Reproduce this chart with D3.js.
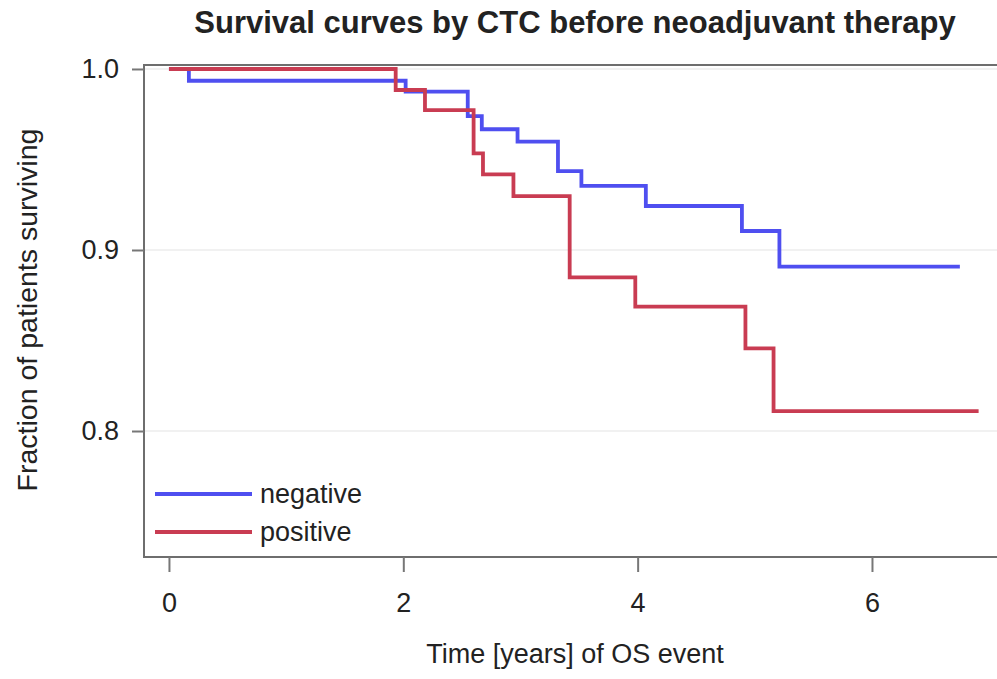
<!DOCTYPE html>
<html>
<head>
    <title>Survival curves by CTC</title>
    <script src="https://d3js.org/d3.v7.min.js"></script>
    <style>
        body { margin: 0; background: #fff; }
        svg { display: block; }
        text { font-family: "Liberation Sans", Arial, sans-serif; fill: #222; }
        .axis text { font-size: 27px; }
        .axis line { stroke: #777; stroke-width: 2; }
        .axis path { display: none; }
        .grid { stroke: #ececec; stroke-width: 1.5; }
        .frame { stroke: #6e6e6e; stroke-width: 2; fill: none; }
        .curve { fill: none; stroke-width: 3.8; }
    </style>
</head>
<body>
<svg width="997" height="679"></svg>
<script>
    // Kaplan-Meier steps (time in years, fraction surviving)
    const negTimes = [0, 0.17, 2.02, 2.55, 2.67, 2.975, 3.32, 3.52, 4.07, 4.89, 5.21, 6.75];
    const negSurv  = [1.0, 0.9935, 0.9875, 0.974, 0.9667, 0.9599, 0.9436, 0.9354, 0.9243, 0.9105, 0.8908, 0.8908];

    const posTimes = [0, 1.935, 2.185, 2.60, 2.68, 2.94, 3.42, 3.98, 4.92, 5.16, 6.91];
    const posSurv  = [1.0, 0.9884, 0.9773, 0.9534, 0.9418, 0.9298, 0.8849, 0.8687, 0.8457, 0.811, 0.811];

    const groups = ["negative", "positive"];
    const colors = ["#4f4ff0", "#c93c52"];
    const xTicks = [0, 2, 4, 6];
    const yTicks = [0.8, 0.9, 1.0];

    const plotLeft = 144, plotRight = 997, plotTop = 65, plotBottom = 557;

    const svg = d3.select("svg");

    const x = d3.scaleLinear().domain([-0.213, 7.067]).range([plotLeft, plotRight]);
    const y = d3.scaleLinear().domain([0.7304, 1.0022]).range([plotBottom, plotTop]);

    // grid lines
    svg.selectAll(".grid")
        .data(yTicks)
        .enter().append("line")
        .attr("class", "grid")
        .attr("x1", plotLeft).attr("x2", plotRight)
        .attr("y1", d => y(d)).attr("y2", d => y(d));

    const series = [
        negTimes.map((t, i) => [t, negSurv[i]]),
        posTimes.map((t, i) => [t, posSurv[i]])
    ];

    const line = d3.line()
        .x(d => x(d[0]))
        .y(d => y(d[1]))
        .curve(d3.curveStepAfter);

    svg.selectAll(".curve")
        .data(series)
        .enter().append("path")
        .attr("class", "curve")
        .attr("stroke", (d, i) => colors[i])
        .attr("d", line);

    // frame (top, left, bottom)
    svg.append("path")
        .attr("class", "frame")
        .attr("d", "M" + plotRight + "," + plotTop + "H" + plotLeft + "V" + plotBottom + "H" + plotRight);

    svg.append("g")
        .attr("class", "axis")
        .attr("transform", "translate(0," + plotBottom + ")")
        .call(d3.axisBottom(x).tickValues(xTicks).tickSize(15).tickPadding(21).tickFormat(d3.format("d")));

    svg.append("g")
        .attr("class", "axis")
        .attr("transform", "translate(" + plotLeft + ",0)")
        .call(d3.axisLeft(y).tickValues(yTicks).tickSize(12).tickPadding(13).tickFormat(d3.format(".1f")));

    // title and axis labels
    svg.append("text")
        .attr("x", 575).attr("y", 33)
        .attr("text-anchor", "middle")
        .style("font-size", "31px").style("font-weight", "bold")
        .text("Survival curves by CTC before neoadjuvant therapy");

    svg.append("text")
        .attr("x", 575).attr("y", 663)
        .attr("text-anchor", "middle")
        .style("font-size", "27px")
        .text("Time [years] of OS event");

    svg.append("text")
        .attr("transform", "translate(37,310) rotate(-90)")
        .attr("text-anchor", "middle")
        .style("font-size", "28.5px")
        .text("Fraction of patients surviving");

    // legend
    const legend = svg.selectAll(".legend")
        .data(groups)
        .enter().append("g")
        .attr("class", "legend")
        .attr("transform", (d, i) => "translate(155," + (494 + i * 38) + ")");

    legend.append("line")
        .attr("x1", 0).attr("x2", 97)
        .attr("stroke", (d, i) => colors[i])
        .attr("stroke-width", 3.8);

    legend.append("text")
        .attr("x", 105).attr("y", 9)
        .style("font-size", "27px")
        .text(d => d);
</script>
</body>
</html>
